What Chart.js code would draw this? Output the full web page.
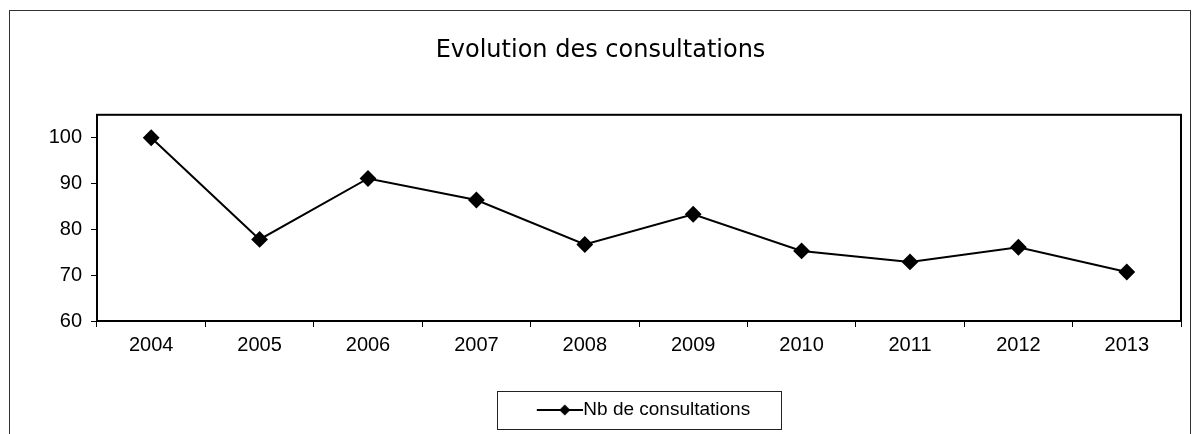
<!DOCTYPE html>
<html>
<head>
<meta charset="utf-8">
<script src="https://cdn.jsdelivr.net/npm/chart.js@4.4.0/dist/chart.umd.min.js"></script>
<style>
  html, body { margin: 0; padding: 0; background: #fff; }
  #wrap { width: 1197px; height: 434px; }
</style>
</head>
<body>
<div id="wrap"><canvas id="chart"></canvas></div>
<script>
// Chart data
const years = ['2004', '2005', '2006', '2007', '2008', '2009', '2010', '2011', '2012', '2013'];
const consultations = [100, 77.8, 91.1, 86.4, 76.7, 83.3, 75.3, 72.9, 76.1, 70.7];
const yTicks = [60, 70, 80, 90, 100];

// Legend symbol: a line with a diamond, shifted right so it reaches the text
function legendSymbol() {
    const c = document.createElement('canvas');
    c.width = 64; c.height = 12;
    const ctx = c.getContext('2d');
    ctx.strokeStyle = '#000';
    ctx.lineWidth = 2;
    ctx.beginPath();
    ctx.moveTo(18, 6); ctx.lineTo(64, 6);
    ctx.stroke();
    ctx.fillStyle = '#000';
    ctx.beginPath();
    ctx.moveTo(46, 0.5); ctx.lineTo(51.5, 6); ctx.lineTo(46, 11.5); ctx.lineTo(40.5, 6);
    ctx.closePath();
    ctx.fill();
    return c;
}

// Frames: outer chart border, plot border, legend box
const framePlugin = {
    id: 'frames',
    beforeDraw(chart) {
        const ctx = chart.ctx;
        ctx.save();
        ctx.strokeStyle = '#333';
        ctx.lineWidth = 1;
        ctx.strokeRect(9.5, 10.5, 1181, 440);
        ctx.restore();
    },
    afterDraw(chart) {
        const ctx = chart.ctx;
        const a = chart.chartArea;
        ctx.save();
        ctx.strokeStyle = '#000';
        ctx.lineWidth = 2;
        ctx.strokeRect(a.left, a.top, a.right - a.left, a.bottom - a.top);
        const hb = chart.legend.legendHitBoxes[0];
        if (hb) {
            ctx.lineWidth = 1;
            ctx.strokeStyle = '#222';
            const x0 = Math.round(hb.left - 31) + 0.5;
            const y0 = Math.round(hb.top - 9.5) + 0.5;
            const x1 = Math.round(hb.left + hb.width + 31) + 0.5;
            const y1 = Math.round(hb.top + hb.height + 9.5) + 0.5;
            ctx.strokeRect(x0, y0, x1 - x0, y1 - y0);
        }
        ctx.restore();
    }
};

const ctx = document.getElementById('chart').getContext('2d');
new Chart(ctx, {
    type: 'line',
    data: {
        labels: years,
        datasets: [{
            label: 'Nb de consultations',
            data: consultations,
            borderColor: '#000',
            backgroundColor: '#000',
            borderWidth: 2,
            pointStyle: 'rectRot',
            pointRadius: 7,
            pointHoverRadius: 7,
            tension: 0
        }]
    },
    options: {
        responsive: true,
        maintainAspectRatio: false,
        animation: false,
        layout: { padding: { top: 36, left: 20, right: 16, bottom: 4.5 } },
        plugins: {
            title: {
                display: true,
                text: 'Evolution des consultations',
                color: '#000',
                font: { family: 'DejaVu Sans', size: 24, weight: 'normal' },
                padding: { top: 0, bottom: 50 }
            },
            legend: {
                position: 'bottom',
                fullSize: false,
                labels: {
                    color: '#000',
                    font: { family: 'Liberation Sans', size: 19 },
                    usePointStyle: true,
                    pointStyle: legendSymbol(),
                    pointStyleWidth: 46,
                    padding: 10
                }
            },
            tooltip: { enabled: false }
        },
        scales: {
            x: {
                offset: true,
                afterFit(axis) { axis.height = 69.5; },
                grid: { display: true, offset: true, drawOnChartArea: false, drawTicks: true, tickLength: 6, color: '#000' },
                border: { display: false },
                ticks: { color: '#000', font: { family: 'Liberation Sans', size: 20 }, padding: 6, maxRotation: 0 }
            },
            y: {
                min: 60,
                max: 105,
                afterBuildTicks(axis) {
                    axis.ticks = yTicks.map(v => ({ value: v }));
                },
                afterFit(axis) { axis.width = 77; },
                grid: { display: true, drawOnChartArea: false, drawTicks: true, tickLength: 6, color: '#000' },
                border: { display: false },
                ticks: { color: '#000', font: { family: 'Liberation Sans', size: 20 }, padding: 9 }
            }
        }
    },
    plugins: [framePlugin]
});
</script>
</body>
</html>
